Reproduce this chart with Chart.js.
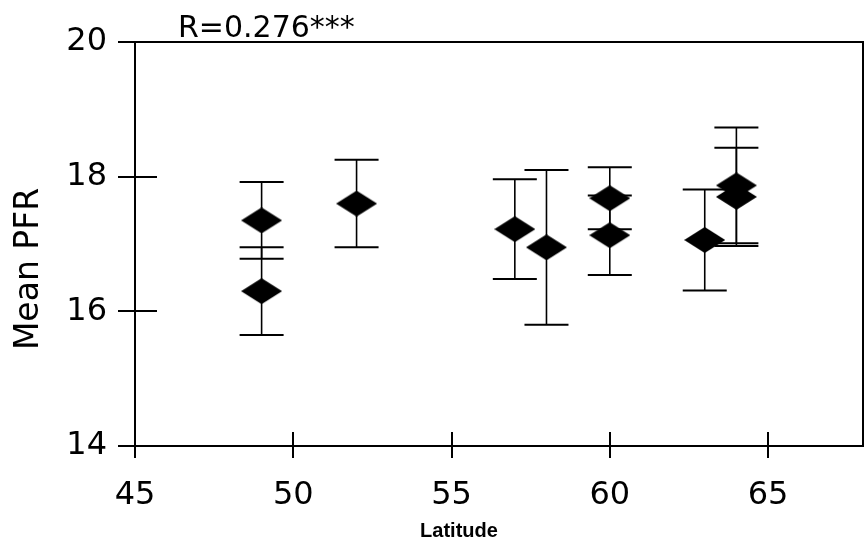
<!DOCTYPE html>
<html>
<head>
<meta charset="utf-8">
<script src="https://cdn.jsdelivr.net/npm/chart.js@4/dist/chart.umd.min.js"></script>
<style>
  html, body { margin: 0; padding: 0; background: #fff; }
  #wrap { width: 866px; height: 545px; }
</style>
</head>
<body>
<div id="wrap"><canvas id="c" width="866" height="545"></canvas></div>
<script>
// ---- data ----
const latitude = [49, 49, 52, 57, 58, 60, 60, 63, 64, 64];
const meanPFR  = [17.35, 16.30, 17.60, 17.22, 16.95, 17.68, 17.13, 17.06, 17.87, 17.70];
const errPFR   = [0.57, 0.65, 0.65, 0.74, 1.15, 0.46, 0.59, 0.75, 0.86, 0.73];
const xTickValues = [45, 50, 55, 60, 65];
const yTickValues = [14, 16, 18, 20];
const annotationText = 'R=0.276***';
const xTitle = 'Latitude';
const yTitle = 'Mean PFR';

// diamond marker (wider than tall)
function makeDiamond(w, h) {
  const cv = document.createElement('canvas');
  cv.width = w; cv.height = h;
  const g = cv.getContext('2d');
  g.fillStyle = '#000';
  g.beginPath();
  g.moveTo(w / 2, 0);
  g.lineTo(w, h / 2);
  g.lineTo(w / 2, h);
  g.lineTo(0, h / 2);
  g.closePath();
  g.fill();
  return cv;
}
const diamond = makeDiamond(41, 26);

const points = latitude.map((x, i) => ({ x: x, y: meanPFR[i] }));

const errorBars = {
  id: 'errorBars',
  beforeDatasetsDraw(chart) {
    const ctx = chart.ctx, xs = chart.scales.x, ys = chart.scales.y;
    ctx.save();
    ctx.strokeStyle = '#000';
    latitude.forEach((lat, i) => {
      const px = xs.getPixelForValue(lat);
      const top = ys.getPixelForValue(meanPFR[i] + errPFR[i]);
      const bot = ys.getPixelForValue(meanPFR[i] - errPFR[i]);
      ctx.lineWidth = 1.6;
      ctx.beginPath();
      ctx.moveTo(px, top); ctx.lineTo(px, bot);
      ctx.stroke();
      ctx.lineWidth = 2;
      ctx.beginPath();
      ctx.moveTo(px - 22, top); ctx.lineTo(px + 22, top);
      ctx.moveTo(px - 22, bot); ctx.lineTo(px + 22, bot);
      ctx.stroke();
    });
    ctx.restore();
  }
};

const frame = {
  id: 'frame',
  afterDraw(chart) {
    const ctx = chart.ctx, a = chart.chartArea, xs = chart.scales.x, ys = chart.scales.y;
    ctx.save();
    ctx.strokeStyle = '#000';
    ctx.lineWidth = 2;
    ctx.strokeRect(a.left, a.top, a.right - a.left, a.bottom - a.top);
    ctx.beginPath();
    xs.ticks.forEach(t => {
      const px = Math.round(xs.getPixelForValue(t.value));
      ctx.moveTo(px, a.bottom - 14); ctx.lineTo(px, a.bottom + 12);
    });
    yTickValues.forEach(v => {
      const py = Math.round(ys.getPixelForValue(v));
      ctx.moveTo(a.left - 17, py); ctx.lineTo(a.left + 22, py);
    });
    ctx.stroke();
    ctx.fillStyle = '#000';
    // annotation
    ctx.font = '30px "DejaVu Sans"';
    ctx.textAlign = 'left';
    ctx.textBaseline = 'alphabetic';
    ctx.fillText(annotationText, a.left + 43, 37);
    // x title
    ctx.font = 'bold 20px "Liberation Sans"';
    ctx.textAlign = 'center';
    ctx.fillText(xTitle, 459, 537);
    // y title
    ctx.save();
    ctx.translate(38, 269);
    ctx.rotate(-Math.PI / 2);
    ctx.font = '33px "DejaVu Sans"';
    ctx.textAlign = 'center';
    ctx.textBaseline = 'alphabetic';
    ctx.fillText(yTitle, 0, 0);
    ctx.restore();
    ctx.restore();
  }
};

new Chart(document.getElementById('c'), {
  type: 'scatter',
  data: {
    datasets: [{
      data: points,
      pointStyle: diamond,
      pointRadius: 13,
      pointHoverRadius: 13,
      showLine: false
    }]
  },
  options: {
    responsive: false,
    devicePixelRatio: 1,
    animation: false,
    events: [],
    layout: { autoPadding: false, padding: { top: 42, right: 3, left: 0, bottom: 0 } },
    plugins: { legend: { display: false }, tooltip: { enabled: false }, title: { display: false } },
    scales: {
      x: {
        type: 'linear', min: 45, max: 68,
        afterBuildTicks: s => { s.ticks = xTickValues.map(v => ({ value: v })); },
        afterFit: s => { s.height = 99; s.paddingLeft = 0; s.paddingRight = 0; },
        grid: { display: false, drawTicks: false },
        border: { display: false },
        ticks: { color: '#000', padding: 30, font: { family: 'DejaVu Sans', size: 32 } }
      },
      y: {
        type: 'linear', min: 14, max: 20,
        afterBuildTicks: s => { s.ticks = yTickValues.map(v => ({ value: v })); },
        afterFit: s => { s.width = 135; s.paddingTop = 0; s.paddingBottom = 0; },
        grid: { display: false, drawTicks: false },
        border: { display: false },
        ticks: { color: '#000', padding: 28, font: { family: 'DejaVu Sans', size: 32 } }
      }
    }
  },
  plugins: [errorBars, frame]
});
</script>
</body>
</html>
